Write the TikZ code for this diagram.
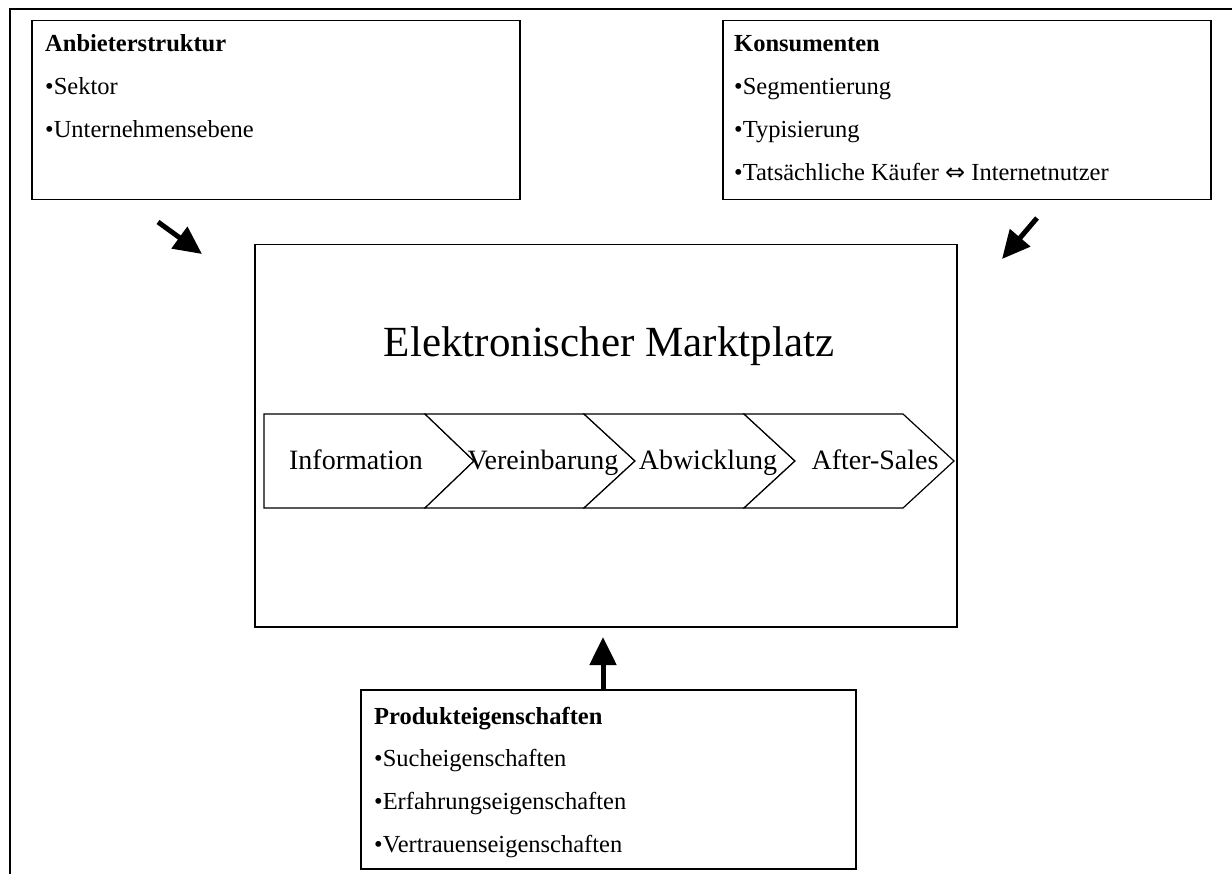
\documentclass[tikz,border=0pt]{standalone}
\usepackage{fontspec}
\setmainfont{Liberation Serif}
\newfontfamily\symfont{DejaVu Sans}
\usetikzlibrary{arrows.meta}
\begin{document}
\begin{tikzpicture}[x=1pt,y=-1pt,
  box/.style={draw, line width=1.5pt, anchor=north west, inner sep=0pt},
  txt/.style={anchor=base west, inner sep=0pt, font=\fontsize{24.5}{29}\selectfont},
  head/.style={txt, font=\fontsize{24.5}{29}\selectfont\bfseries},
  chev/.style={draw, line width=1.2pt, fill=white},
  ctxt/.style={anchor=base, inner sep=0pt, font=\fontsize{28}{33}\selectfont},
  bigarrow/.style={line width=5pt, -{Triangle[length=28pt,width=26pt]}}
]
\useasboundingbox (0,0) rectangle (1232,874);
% outer frame
\draw[line width=2pt] (10,874) -- (10,9) -- (1232,9);

% boxes
\node[box, minimum width=488pt, minimum height=179pt] (anb) at (31,20) {};
\node[box, minimum width=488pt, minimum height=179pt] (kon) at (722,20) {};
\node[box, minimum width=702pt, minimum height=382pt] (markt) at (254,244) {};
\node[box, minimum width=495pt, minimum height=179pt] (prod) at (360,689) {};

% Anbieterstruktur
\node[head] (anbT) at (45,52) {Anbieterstruktur};
\node[txt] (anb1) at (45,95) {•Sektor};
\node[txt] (anb2) at (45,138) {•Unternehmensebene};

% Konsumenten
\node[head] (konT) at (734,52) {Konsumenten};
\node[txt] (kon1) at (734,95) {•Segmentierung};
\node[txt] (kon2) at (734,138) {•Typisierung};
\node[txt] (kon3) at (734,181) {•Tatsächliche Käufer {\symfont\fontsize{24}{28}\selectfont ⇔} Internetnutzer};

% Produkteigenschaften
\node[head] (prodT) at (374,724) {Produkteigenschaften};
\node[txt] (prod1) at (374,766) {•Sucheigenschaften};
\node[txt] (prod2) at (374,809) {•Erfahrungseigenschaften};
\node[txt] (prod3) at (374,852) {•Vertrauenseigenschaften};

% title
\node[anchor=base, inner sep=0pt, font=\fontsize{43}{50}\selectfont] (title) at (609,357) {Elektronischer Marktplatz};

% chevrons
\draw[chev] (264,414) -- (425,414) -- (474,461) -- (425,508) -- (264,508) -- cycle;
\draw[chev] (425,414) -- (584,414) -- (635,461) -- (584,508) -- (425,508) -- (474,461) -- cycle;
\draw[chev] (584,414) -- (744,414) -- (795,461) -- (744,508) -- (584,508) -- (635,461) -- cycle;
\draw[chev] (744,414) -- (903,414) -- (954,461) -- (903,508) -- (744,508) -- (795,461) -- cycle;
\node[ctxt] (c1) at (356,469) {Information};
\node[ctxt] (c2) at (543,469) {Vereinbarung};
\node[ctxt] (c3) at (708,469) {Abwicklung};
\node[ctxt] (c4) at (875,469) {After-Sales};

% arrows
\coordinate (a1s) at (158,222);
\coordinate (a1e) at (202,254);
\coordinate (a2s) at (1037,218);
\coordinate (a2e) at (1002,259);
\coordinate (a3s) at (603,689);
\coordinate (a3e) at (603,637);
\draw[bigarrow] (a1s) -- (a1e);
\draw[bigarrow] (a2s) -- (a2e);
\draw[bigarrow] (a3s) -- (a3e);
\end{tikzpicture}
\end{document}
